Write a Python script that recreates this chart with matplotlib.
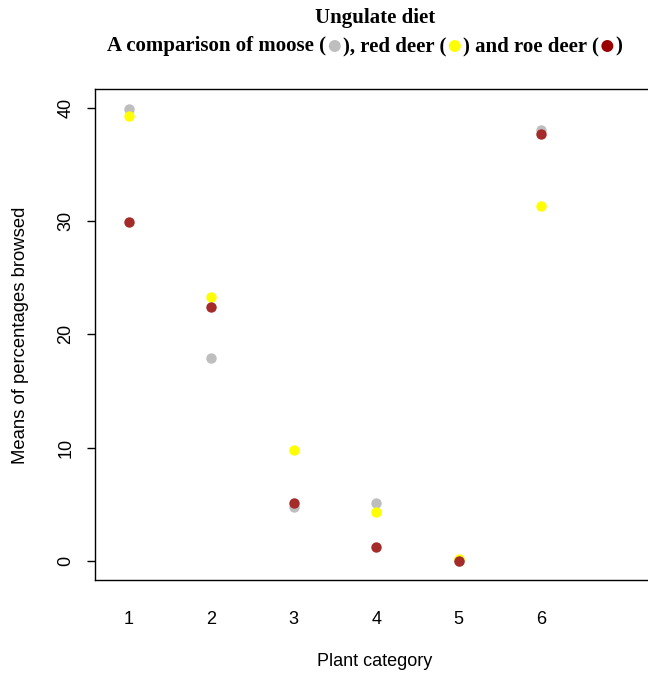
import matplotlib
matplotlib.use("Agg")
import matplotlib.pyplot as plt
from matplotlib.offsetbox import TextArea, DrawingArea, HPacker, AnnotationBbox
from matplotlib.patches import Circle

plt.rcParams['font.family'] = ['Liberation Sans', 'DejaVu Sans']

# plant categories and mean % browsed per ungulate
category = [1, 2, 3, 4, 5, 6]
moose = [39.9, 17.9, 4.8, 5.1, 0.0, 38.0]
red_deer = [39.3, 23.3, 9.8, 4.3, 0.2, 31.3]
roe_deer = [29.9, 22.4, 5.1, 1.2, 0.0, 37.7]

c_moose = '#BEBEBE'
c_red = '#FFFF00'
c_roe = '#A52A2A'

W, H = 648, 673
fig = plt.figure(figsize=(W / 100, H / 100), dpi=100)
left, right, top, bottom = 95, 656, 89, 580
ax = fig.add_axes([left / W, 1 - bottom / H, (right - left) / W, (bottom - top) / H])

ax.plot(category, moose, 'o', color=c_moose, ms=7.5, mew=0)
ax.plot(category, red_deer, 'o', color=c_red, ms=7.5, mew=0)
ax.plot(category, roe_deer, 'o', color=c_roe, ms=7.5, mew=0)

ax.set_xlim(0.587, 1 + (right - 129) / 82.4)
ax.set_ylim(-1.68, 41.66)
ax.set_xticks(category)
ax.set_yticks([0, 10, 20, 30, 40])
ax.tick_params(axis='x', length=0, pad=22, labelsize=13)
ax.tick_params(axis='y', length=6, width=1, pad=9, labelsize=13)
for lab in ax.get_yticklabels():
    lab.set_rotation(90)
    lab.set_va('center')
for s in ax.spines.values():
    s.set_linewidth(1)
    s.set_color('black')

fig.text(375 / W, 1 - 662 / H, 'Plant category', ha='center', va='center', fontsize=13)
fig.text(21 / W, 1 - 335 / H, 'Means of percentages browsed', ha='center', va='center',
         rotation=90, fontsize=13.3)

# title
tfont = dict(family=['Liberation Serif', 'DejaVu Serif'], fontweight='bold', fontsize=15)
fig.text(375 / W, 1 - 18 / H, 'Ungulate diet', ha='center', va='center', **tfont)


def dot(col):
    da = DrawingArea(10, 10, 0, 0)
    da.add_artist(Circle((5, 5), 4.3, color=col, lw=0))
    return da


parts = [TextArea('A comparison of moose (', textprops=tfont), dot(c_moose),
         TextArea('), red deer (', textprops=tfont), dot(c_red),
         TextArea(') and roe deer (', textprops=tfont), dot('#9A0000'),
         TextArea(')', textprops=tfont)]
box = HPacker(children=parts, align='center', pad=0, sep=1)
ab = AnnotationBbox(box, (365 / W, 1 - 46 / H), xycoords='figure fraction',
                    box_alignment=(0.5, 0.5), frameon=False)
fig.add_artist(ab)

fig.savefig('out.png', dpi=100)
